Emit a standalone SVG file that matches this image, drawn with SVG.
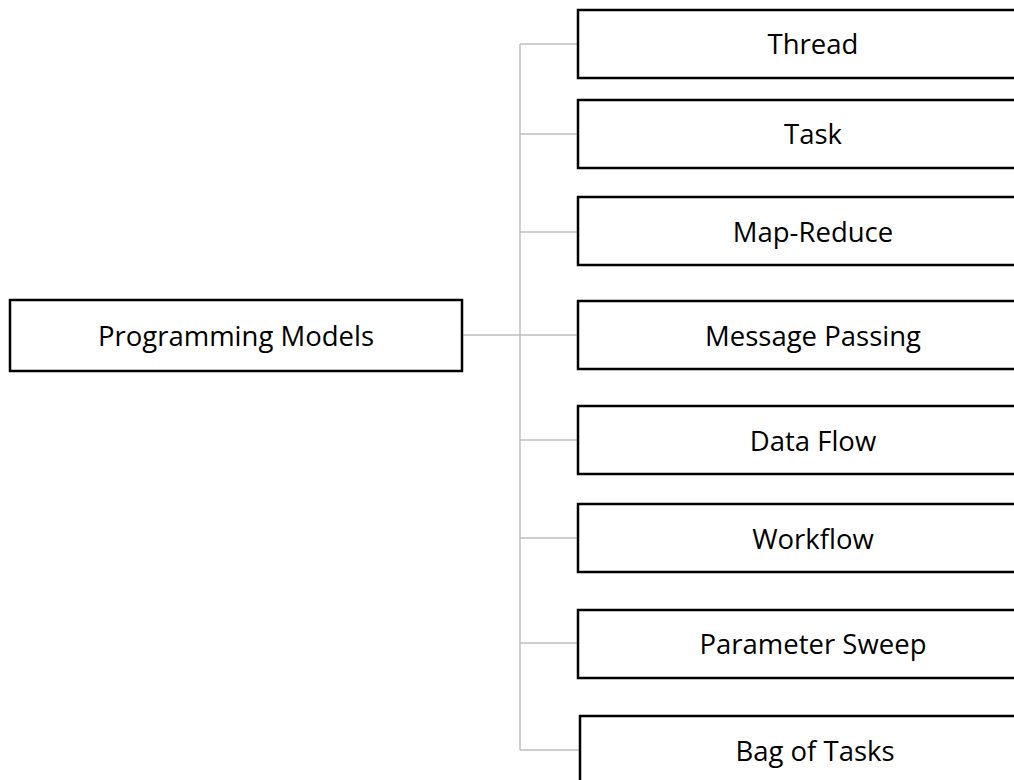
<svg xmlns="http://www.w3.org/2000/svg" width="1014" height="780" viewBox="0 0 1014 780">
<style>
.box{fill:#fff;stroke:#000;stroke-width:2.5}
.lbl{font-family:"Open Sans","Liberation Sans",sans-serif;font-size:27.5px;fill:#000;text-anchor:middle}
.con{stroke:#bfbfbf;stroke-width:1.5;fill:none}
</style>
<rect width="1014" height="780" fill="#fff"/>
<g id="connectors">
<path class="con" d="M462 335H520M520 44V750M520 44H578M520 134H578M520 232H578M520 335H578M520 440H578M520 538H578M520 643H578M520 750H580"/>
</g>
<g id="root"><rect class="box" x="10" y="300" width="452" height="71"/><text class="lbl" x="236" y="346">Programming Models</text></g>
<g id="thread"><rect class="box" x="578" y="10" width="470" height="68"/><text class="lbl" x="813" y="54">Thread</text></g>
<g id="task"><rect class="box" x="578" y="100" width="470" height="68"/><text class="lbl" x="813" y="144">Task</text></g>
<g id="mapreduce"><rect class="box" x="578" y="197" width="470" height="68"/><text class="lbl" x="813" y="242">Map-Reduce</text></g>
<g id="messagepassing"><rect class="box" x="578" y="301" width="470" height="68"/><text class="lbl" x="813" y="346">Message Passing</text></g>
<g id="dataflow"><rect class="box" x="578" y="406" width="470" height="68"/><text class="lbl" x="813" y="451">Data Flow</text></g>
<g id="workflow"><rect class="box" x="578" y="504" width="470" height="68"/><text class="lbl" x="813" y="549">Workflow</text></g>
<g id="parametersweep"><rect class="box" x="578" y="610" width="470" height="68"/><text class="lbl" x="813" y="654">Parameter Sweep</text></g>
<g id="bagoftasks"><rect class="box" x="580" y="716" width="470" height="70"/><text class="lbl" x="815" y="761">Bag of Tasks</text></g>
</svg>
